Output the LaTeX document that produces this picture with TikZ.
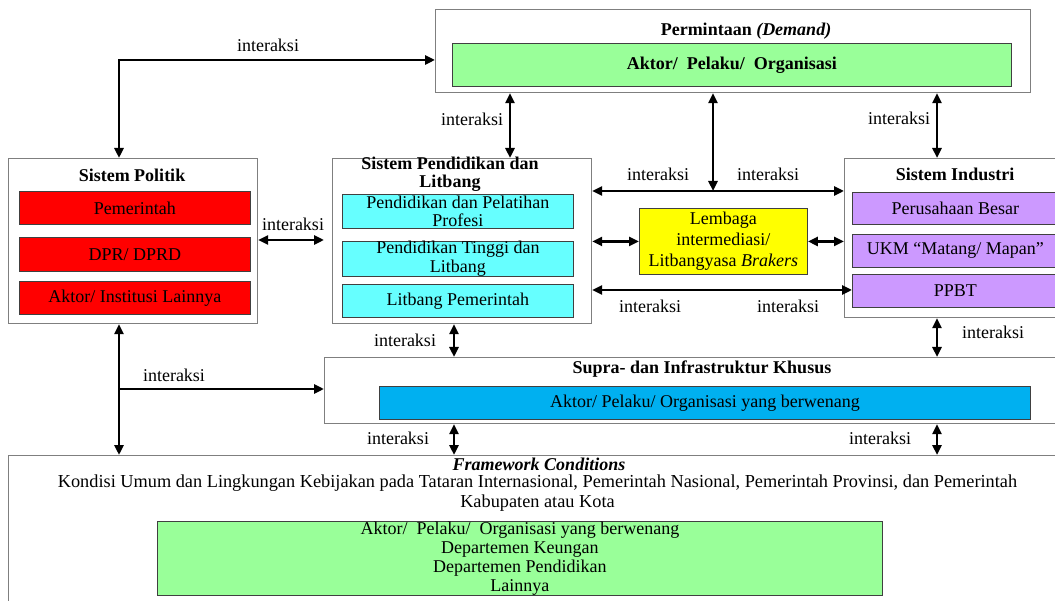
\documentclass[tikz,border=0pt]{standalone}
\usepackage{fontspec}
\setmainfont{Liberation Serif}
\usetikzlibrary{arrows.meta}
\definecolor{framegray}{HTML}{7F7F7F}
\definecolor{cellline}{HTML}{404040}
\definecolor{cellred}{HTML}{FF0000}
\definecolor{cellcyan}{HTML}{66FFFF}
\definecolor{cellgreen}{HTML}{99FF99}
\definecolor{cellyellow}{HTML}{FFFF00}
\definecolor{cellpurple}{HTML}{CC99FF}
\definecolor{cellblue}{HTML}{00B0F0}
\begin{document}
\begin{tikzpicture}[x=1pt,y=-1pt,
  every node/.style={font=\fontsize{18}{19}\selectfont, inner sep=0pt},
  sysbox/.style={draw=framegray, line width=1.2pt, fill=white, anchor=north west},
  cellbox/.style={draw=cellline, line width=0.9pt, anchor=north west, align=center},
  headtext/.style={font=\fontsize{18}{18}\selectfont\bfseries, align=center},
  duplex/.style={line width=2.7pt, {Triangle[length=10pt,width=9pt]}-{Triangle[length=10pt,width=9pt]}},
  simplex/.style={line width=2.7pt, -{Triangle[length=10pt,width=9pt]}}]

\useasboundingbox (0,0) rectangle (1055,601);
\clip (0,0) rectangle (1055,601);
\fill[white] (0,0) rectangle (1055,601);

% column and row guides for the connectors
\coordinate (xa) at (119,0);
\coordinate (xb) at (510,0);
\coordinate (xc) at (713,0);
\coordinate (xd) at (937,0);
\coordinate (xe) at (454,0);
\coordinate (ya) at (0,60);
\coordinate (yb) at (0,191);
\coordinate (yc) at (0,240);
\coordinate (yd) at (0,290);
\coordinate (yf) at (0,389);

% demand
\node[sysbox, minimum width=595pt, minimum height=83pt] (dem) at (435,9) {};
\node[headtext] (demt) at (746,31) {Permintaan \textit{(Demand)}};
\node[cellbox, fill=cellgreen, minimum width=559pt, minimum height=43pt, font=\fontsize{18}{19}\selectfont\bfseries] (demc) at (452,43) {Aktor/\ \ Pelaku/\ \ Organisasi};

% political system
\node[sysbox, minimum width=249pt, minimum height=165pt] (pol) at (8,158) {};
\node[headtext] (polt) at (132,175) {Sistem Politik};
\node[cellbox, fill=cellred, minimum width=231pt, minimum height=33pt] (red1) at (19,191) {Pemerintah};
\node[cellbox, fill=cellred, minimum width=231pt, minimum height=34pt] (red2) at (19,237) {DPR/ DPRD};
\node[cellbox, fill=cellred, minimum width=231pt, minimum height=33pt] (red3) at (19,281) {Aktor/ Institusi Lainnya};

% education and R&D system
\node[sysbox, minimum width=259pt, minimum height=165pt] (edu) at (332,158) {};
\node[headtext] (edut) at (450,174) {Sistem Pendidikan dan\\Litbang};
\node[cellbox, fill=cellcyan, minimum width=231pt, minimum height=34pt, font=\fontsize{18}{18.5}\selectfont] (cy1) at (342,194) {Pendidikan dan Pelatihan\\Profesi};
\node[cellbox, fill=cellcyan, minimum width=231pt, minimum height=33pt, font=\fontsize{18}{18.5}\selectfont] (cy2) at (342,241) {Pendidikan Tinggi dan\\Litbang};
\node[cellbox, fill=cellcyan, minimum width=231pt, minimum height=33pt] (cy3) at (342,284) {Litbang Pemerintah};

% intermediary
\node[cellbox, fill=cellyellow, minimum width=168pt, minimum height=66pt, font=\fontsize{18}{21}\selectfont] (lem) at (639,208) {Lembaga\\intermediasi/\\Litbangyasa \textit{Brakers}};

% industry system
\node[sysbox, minimum width=220pt, minimum height=159pt] (ind) at (844,158) {};
\node[headtext] (indt) at (955,174) {Sistem Industri};
\node[cellbox, fill=cellpurple, minimum width=206pt, minimum height=32pt] (pu1) at (852,192) {Perusahaan Besar};
\node[cellbox, fill=cellpurple, minimum width=206pt, minimum height=33pt] (pu2) at (852,234) {UKM “Matang/ Mapan”};
\node[cellbox, fill=cellpurple, minimum width=206pt, minimum height=33pt] (pu3) at (852,274) {PPBT};

% special supra- and infrastructure
\node[sysbox, minimum width=750pt, minimum height=66pt] (sup) at (324,357) {};
\node[headtext] (supt) at (702,369) {Supra- dan Infrastruktur Khusus};
\node[cellbox, fill=cellblue, minimum width=651pt, minimum height=33pt] (blue) at (379,386) {Aktor/ Pelaku/ Organisasi yang berwenang};

% framework conditions
\node[sysbox, minimum width=1070pt, minimum height=200pt] (fw) at (8,455) {};
\node[headtext] (fwt) at (539,464) {\textit{Framework Conditions}};
\node[align=center, font=\fontsize{18.3}{19.5}\selectfont] (fwd) at (537.5,493) {Kondisi Umum dan Lingkungan Kebijakan pada Tataran Internasional, Pemerintah Nasional, Pemerintah Provinsi, dan Pemerintah\\Kabupaten atau Kota};
\node[cellbox, fill=cellgreen, minimum width=725pt, minimum height=74pt] (fwc) at (157,521) {Aktor/\ \ Pelaku/\ \ Organisasi yang berwenang\\Departemen Keungan\\Departemen Pendidikan\\Lainnya};

% connectors
\draw[duplex] (pol.north -| xa) -- (xa |- ya) -- (dem.west |- ya);
\draw[duplex, shorten >=8pt] (pol.east |- yc) -- (edu.west |- yc);
\draw[duplex] (dem.south -| xb) -- (edu.north -| xb);
\draw[duplex] (dem.south -| xc) -- (xc |- yb);
\draw[duplex] (edu.east |- yb) -- (ind.west |- yb);
\draw[duplex] (dem.south -| xd) -- (ind.north -| xd);
\draw[duplex] (edu.east |- lem.west) -- (lem.west);
\draw[duplex] (lem.east) -- (ind.west |- lem.east);
\draw[duplex] (edu.east |- yd) -- (pu3.west |- yd);
\draw[duplex] (edu.south -| xe) -- (sup.north -| xe);
\draw[duplex] (ind.south -| xd) -- (sup.north -| xd);
\draw[duplex] (pol.south -| xa) -- (fw.north -| xa);
\draw[simplex] (xa |- yf) -- (sup.west |- yf);
\draw[duplex] (sup.south -| xe) -- (fw.north -| xe);
\draw[duplex] (sup.south -| xd) -- (fw.north -| xd);

% connector labels
\node (l1) at (268,45) {interaksi};
\node (l2) at (293,224) {interaksi};
\node (l3) at (472,119) {interaksi};
\node (l4) at (899,118) {interaksi};
\node (l5) at (658,174) {interaksi};
\node (l6) at (768,174) {interaksi};
\node (l7) at (650,306) {interaksi};
\node (l8) at (788,306) {interaksi};
\node (l9) at (405,340) {interaksi};
\node (l10) at (993,332) {interaksi};
\node (l11) at (174,375) {interaksi};
\node (l12) at (398,438) {interaksi};
\node (l13) at (880,438) {interaksi};
\end{tikzpicture}
\end{document}
